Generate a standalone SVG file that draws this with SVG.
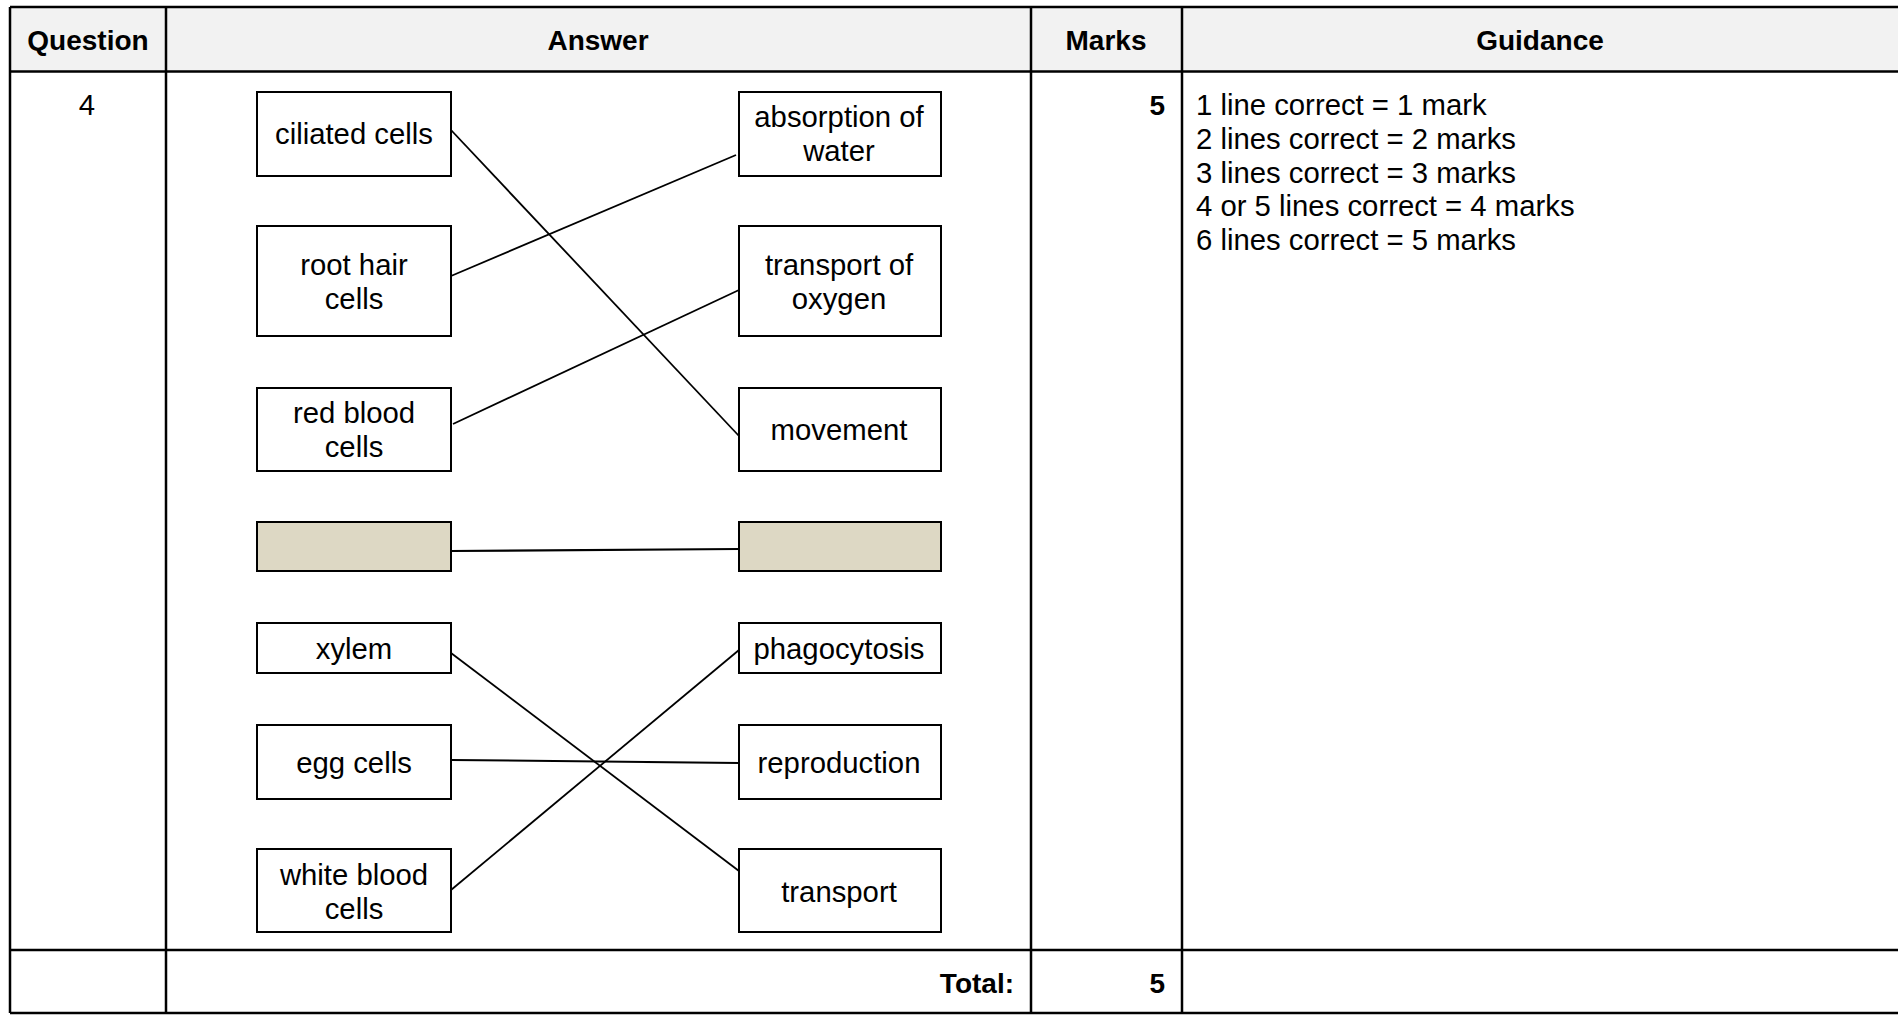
<svg xmlns="http://www.w3.org/2000/svg" width="1898" height="1017" viewBox="0 0 1898 1017">
<style>
text{font-family:"Liberation Sans",Arial,sans-serif;font-size:29.3px;fill:#000}
.b{font-weight:bold;font-size:28px}
.c{text-anchor:middle}
.r{text-anchor:end}
.grid{stroke:#000;stroke-width:2.5;fill:none}
.box{fill:#fff;stroke:#000;stroke-width:2}
.tan{fill:#ddd8c4;stroke:#000;stroke-width:2}
.con line{stroke:#000;stroke-width:1.8}
</style>
<rect x="0" y="0" width="1898" height="1017" fill="#fff"/>
<g id="table">
<rect x="10" y="7" width="1890" height="64" fill="#f2f2f2"/>
<line class="grid" x1="10" y1="7" x2="1898" y2="7"/>
<line class="grid" x1="10" y1="71.5" x2="1898" y2="71.5"/>
<line class="grid" x1="10" y1="950" x2="1898" y2="950"/>
<line class="grid" x1="10" y1="1013" x2="1898" y2="1013"/>
<line class="grid" x1="10" y1="7" x2="10" y2="1013"/>
<line class="grid" x1="166" y1="7" x2="166" y2="1013"/>
<line class="grid" x1="1031" y1="7" x2="1031" y2="1013"/>
<line class="grid" x1="1182" y1="7" x2="1182" y2="1013"/>
<text class="b c" x="88" y="50">Question</text>
<text class="b c" x="598" y="50">Answer</text>
<text class="b c" x="1106" y="50">Marks</text>
<text class="b c" x="1540" y="50">Guidance</text>
<text class="c" x="87" y="115">4</text>
<text class="b r" x="1165" y="115">5</text>
<text x="1196" y="115">1 line correct = 1 mark</text>
<text x="1196" y="149">2 lines correct = 2 marks</text>
<text x="1196" y="183">3 lines correct = 3 marks</text>
<text x="1196" y="216">4 or 5 lines correct = 4 marks</text>
<text x="1196" y="250">6 lines correct = 5 marks</text>
<text class="b r" x="1014" y="993">Total:</text>
<text class="b r" x="1165" y="993">5</text>
</g>
<g class="con" id="connectors">
<line x1="451" y1="130" x2="739" y2="436"/>
<line x1="451" y1="276" x2="736" y2="155"/>
<line x1="453" y1="424" x2="739" y2="290"/>
<line x1="451" y1="551" x2="739" y2="549" style="stroke-width:2.2"/>
<line x1="451" y1="653" x2="739" y2="871"/>
<line x1="451" y1="760" x2="739" y2="763" style="stroke-width:2"/>
<line x1="451" y1="890" x2="739" y2="650"/>
</g>
<g id="n-ciliated"><rect class="box" x="257" y="92" width="194" height="84"/><text class="c" x="354" y="144">ciliated cells</text></g>
<g id="n-roothair"><rect class="box" x="257" y="226" width="194" height="110"/><text class="c" x="354" y="275">root hair</text><text class="c" x="354" y="309">cells</text></g>
<g id="n-redblood"><rect class="box" x="257" y="388" width="194" height="83"/><text class="c" x="354" y="423">red blood</text><text class="c" x="354" y="457">cells</text></g>
<g id="n-tan-left"><rect class="tan" x="257" y="522" width="194" height="49"/></g>
<g id="n-xylem"><rect class="box" x="257" y="623" width="194" height="50"/><text class="c" x="354" y="659">xylem</text></g>
<g id="n-egg"><rect class="box" x="257" y="725" width="194" height="74"/><text class="c" x="354" y="773">egg cells</text></g>
<g id="n-whiteblood"><rect class="box" x="257" y="849" width="194" height="83"/><text class="c" x="354" y="885">white blood</text><text class="c" x="354" y="919">cells</text></g>
<g id="n-absorption"><rect class="box" x="739" y="92" width="202" height="84"/><text class="c" x="839" y="127">absorption of</text><text class="c" x="839" y="161">water</text></g>
<g id="n-oxygen"><rect class="box" x="739" y="226" width="202" height="110"/><text class="c" x="839" y="275">transport of</text><text class="c" x="839" y="309">oxygen</text></g>
<g id="n-movement"><rect class="box" x="739" y="388" width="202" height="83"/><text class="c" x="839" y="440">movement</text></g>
<g id="n-tan-right"><rect class="tan" x="739" y="522" width="202" height="49"/></g>
<g id="n-phagocytosis"><rect class="box" x="739" y="623" width="202" height="50"/><text class="c" x="839" y="659">phagocytosis</text></g>
<g id="n-reproduction"><rect class="box" x="739" y="725" width="202" height="74"/><text class="c" x="839" y="773">reproduction</text></g>
<g id="n-transport"><rect class="box" x="739" y="849" width="202" height="83"/><text class="c" x="839" y="902">transport</text></g>
</svg>
